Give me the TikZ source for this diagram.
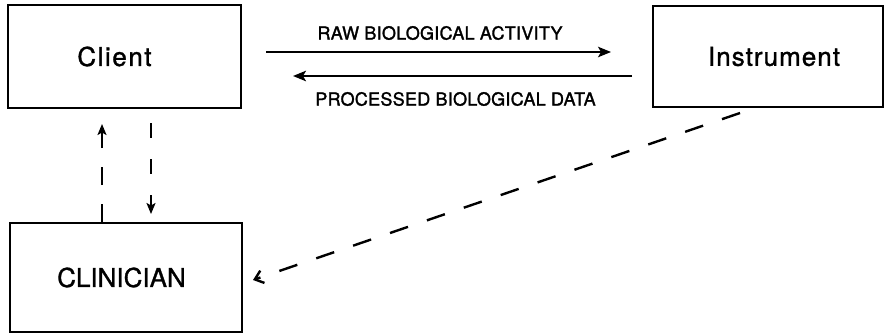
\documentclass[tikz,border=0pt]{standalone}
\usepackage{fontspec}
\setmainfont{TeX Gyre Heros}
\newfontfamily\medsans{TeX Gyre Heros}[FakeBold=1.2]
\newfontfamily\lblsans{TeX Gyre Heros}[FakeBold=1.6,LetterSpace=1.5]
\usetikzlibrary{arrows.meta}
\begin{document}
\begin{tikzpicture}[x=1pt,y=1pt,
  box/.style={draw, line width=2pt, inner sep=0pt},
  solidarrow/.style={line width=1.7pt, -{Stealth[length=13pt,width=10.5pt,inset=3pt]}},
  vdash/.style={line width=2pt, -{Stealth[length=11pt,width=9pt,inset=2.5pt]}},
  boxtext/.style={font=\medsans\fontsize{26}{30}\selectfont},
  lbl/.style={font=\lblsans\fontsize{18}{20}\selectfont}]
\useasboundingbox (0,0) rectangle (885,333);
\node[box, minimum width=233pt, minimum height=103pt, boxtext] (client) at (124.5,276.5) {\addfontfeature{LetterSpace=6}\hspace*{-20pt}Client};
\node[box, minimum width=230pt, minimum height=101pt, boxtext] (inst) at (768,276.5) {\addfontfeature{LetterSpace=4}\hspace*{12pt}Instrument};
\node[box, minimum width=232pt, minimum height=109pt, boxtext] (clin) at (126,55.5) {\hspace*{-9pt}CLINICIAN};
% horizontal arrows
\draw[solidarrow] ([xshift=24pt,yshift=4.5pt]client.east) -- ([xshift=-41pt,yshift=4.5pt]inst.west)
  node[midway, lbl, yshift=19pt, xshift=1.5pt] {RAW BIOLOGICAL ACTIVITY};
\draw[solidarrow] ([xshift=-20pt,yshift=-19.5pt]inst.west) -- ([xshift=51pt,yshift=-19.5pt]client.east)
  node[midway, lbl, yshift=-23pt, xshift=-7pt] {PROCESSED BIOLOGICAL DATA};
% vertical dashed arrows
\draw[vdash, dash pattern=on 18pt off 19pt] ([xshift=-24pt]clin.north) -- ([xshift=-22.5pt,yshift=-15pt]client.south);
\draw[vdash, dash pattern=on 15pt off 21pt, dash phase=22pt] ([xshift=26.5pt]client.south) -- ([xshift=25pt,yshift=8pt]clin.north);
% diagonal dashed arrow
\draw[dash pattern=on 19pt off 20pt, line width=2.4pt, -{Straight Barb[length=8pt,width=13pt,line width=2.4pt]}]
  ([xshift=-28pt,yshift=-5pt]inst.south) -- ([xshift=10pt,yshift=-2.5pt]clin.east);
\end{tikzpicture}
\end{document}
